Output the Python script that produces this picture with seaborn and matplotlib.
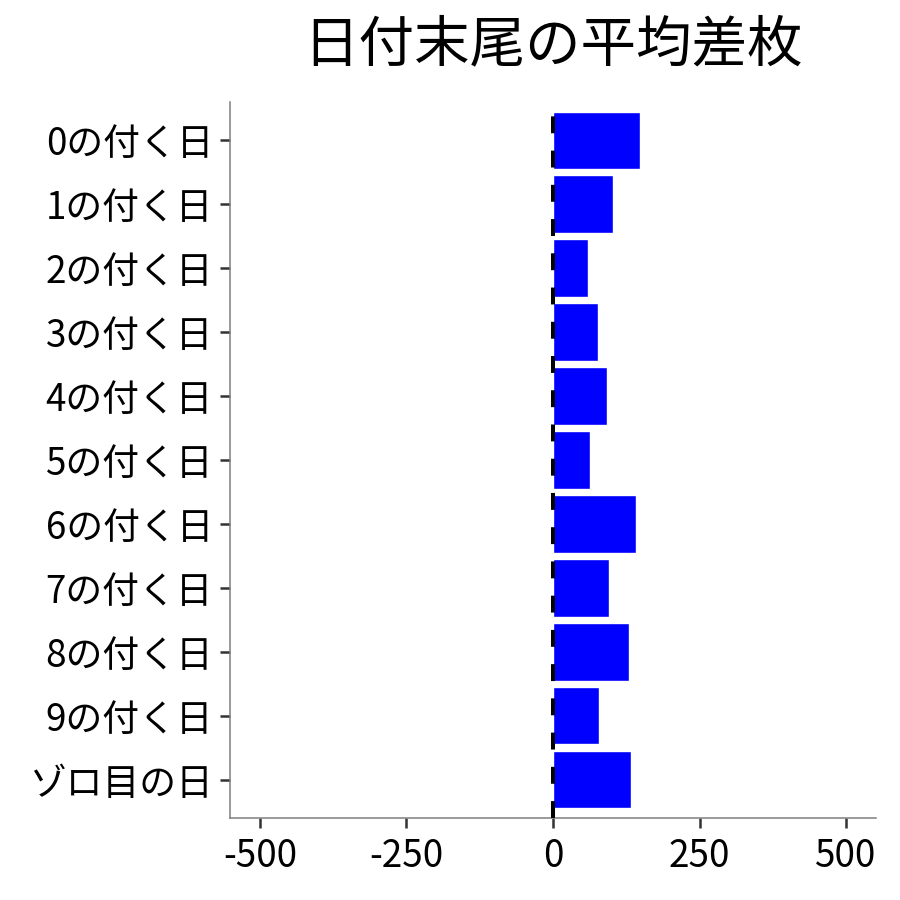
import pandas as pd
import numpy as np
import seaborn as sns
import matplotlib.pyplot as plt

labels = ['0の付く日', '1の付く日', '2の付く日', '3の付く日', '4の付く日',
          '5の付く日', '6の付く日', '7の付く日', '8の付く日', '9の付く日', 'ゾロ目の日']
diff = [148, 103, 59, 76, 92, 63, 142, 95, 129, 78, 133]
xticks = [-500, -250, 0, 250, 500]

df = pd.DataFrame({'label': labels, 'diff': diff})

sns.set_style('white')
plt.rcParams['font.family'] = ['Noto Sans CJK JP', 'DejaVu Sans']

fig = plt.figure(figsize=(9, 9), dpi=100)
ax = fig.add_axes([0.2556, 0.0911, 0.7177, 0.7956])

sns.barplot(data=df, x='diff', y='label', order=labels, color='#0000FF',
            saturation=1, width=0.9, ax=ax)
ax.axvline(0, color='black', lw=2.9, linestyle=(0, (4.2, 4.3)), zorder=3)

ax.set_xlim(-551, 551)
ax.set_ylim(len(labels) - 0.4, -0.6)
ax.set_xticks(xticks)
ax.set_xticklabels([str(v) for v in xticks])
ax.set_xlabel('')
ax.set_ylabel('')
ax.set_title('日付末尾の平均差枚', fontsize=40, pad=29, color='black')

ax.tick_params(axis='both', labelsize=26.5, length=7.2, width=1.8, color='#333333',
               labelcolor='black', bottom=True, left=True)
ax.tick_params(axis='y', pad=5)
ax.tick_params(axis='x', pad=6.5)
for s in ['top', 'right']:
    ax.spines[s].set_visible(False)
for s in ['left', 'bottom']:
    ax.spines[s].set_color('#7f7f7f')
    ax.spines[s].set_linewidth(1.1)

fig.savefig('out.png', dpi=100)
